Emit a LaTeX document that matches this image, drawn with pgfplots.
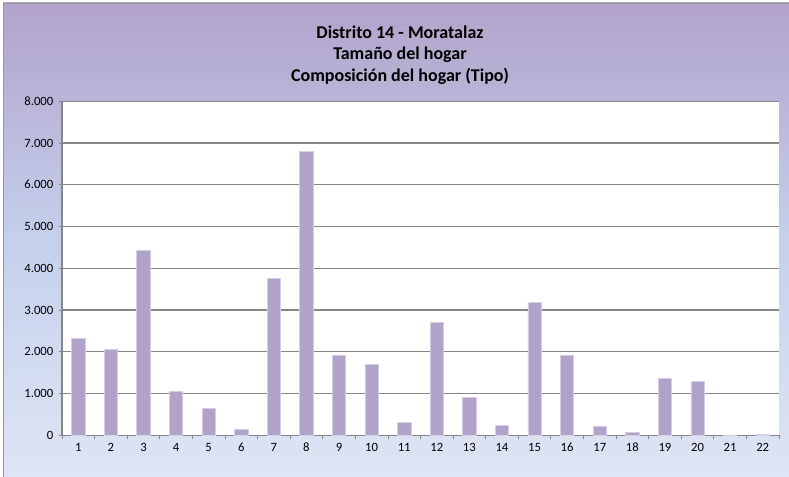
\documentclass[border=0pt]{standalone}
\usepackage{pgfplots}
\pgfplotsset{compat=1.18}
\usepackage{fontspec}
\setmainfont{Carlito}
\definecolor{barc}{RGB}{177,162,202}
\definecolor{baredge}{RGB}{215,205,230}
\definecolor{topc}{RGB}{178,163,202}
\definecolor{midc}{RGB}{196,208,236}
\definecolor{botc}{RGB}{222,229,244}
\definecolor{gridc}{RGB}{134,134,134}
\definecolor{framec}{RGB}{150,150,155}
\begin{document}
\begin{tikzpicture}[x=1pt,y=1pt]
\useasboundingbox (0,0) rectangle (591.75,357.75);
\fill[white] (0,0) rectangle (591.75,357.75);
\shade[top color=topc, bottom color=botc, middle color=midc] (2.25,0) rectangle (591.75,355.5);
\draw[framec, line width=0.75pt] (2.6,0) -- (2.6,355.1) -- (591.75,355.1);
\node[font=\bfseries\fontsize{13.5}{16}\selectfont, align=center] at (300,316.5) {Distrito 14 - Moratalaz\\Tamaño del hogar\\Composición del hogar (Tipo)};
\begin{axis}[
  at={(46.5pt,31.3pt)}, anchor=south west,
  scale only axis, width=537.75pt, height=250.5pt,
  xmin=0.5, xmax=22.5, ymin=0, ymax=8000,
  axis background/.style={fill=white},
  axis x line*=bottom, axis y line*=left,
  axis line style={gridc, line width=0.8pt, -},
  tick align=outside,
  ytick={0,1000,...,8000},
  yticklabels={0,1.000,2.000,3.000,4.000,5.000,6.000,7.000,8.000},
  xtick={1,...,22},
  xticklabels={1,2,3,4,5,6,7,8,9,10,11,12,13,14,15,16,17,18,19,20,21,22},
  minor xtick={0.5,1.5,...,22.5},
  x tick style={draw=none},
  minor x tick style={draw=gridc, line width=0.6pt},
  minor tick length=3pt,
  y tick style={draw=gridc, line width=0.6pt},
  major tick length=2pt,
  ymajorgrids, grid style={gridc, line width=0.8pt},
  tick label style={font=\fontsize{9.5}{10}\selectfont, text=black},
  yticklabel style={xshift=-1pt},
  xticklabel style={yshift=-0.5pt},
  clip=false,
]
\addplot[ybar, bar width=10pt, fill=barc, draw=baredge, line width=0.5pt] coordinates {
(1,2320) (2,2050) (3,4435) (4,1050) (5,645) (6,135) (7,3750) (8,6795)
(9,1920) (10,1700) (11,310) (12,2695) (13,915) (14,245) (15,3180) (16,1920)
(17,225) (18,70) (19,1365) (20,1285) (21,0) (22,15)
};
\end{axis}
\end{tikzpicture}
\end{document}
